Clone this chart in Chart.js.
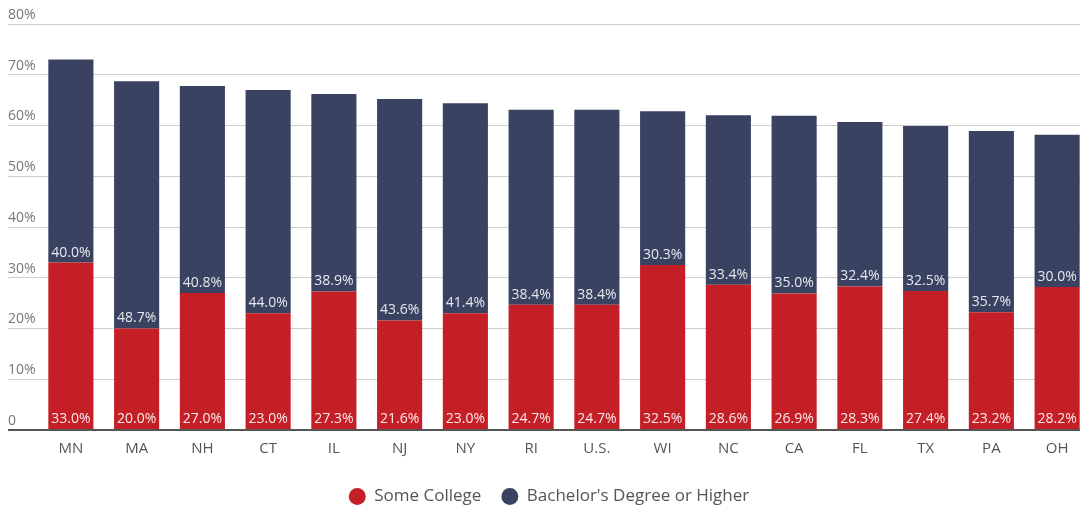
<!DOCTYPE html>
<html>
<head>
<meta charset="utf-8">
<script src="https://cdn.jsdelivr.net/npm/chart.js@4.4.1/dist/chart.umd.min.js"></script>
<style>
  html, body { margin: 0; padding: 0; background: #fff; overflow: hidden; }
  #wrap { width: 1090px; height: 508px; overflow: hidden; }
</style>
</head>
<body>
<div id="wrap"><canvas id="eduChart" width="1090" height="515"></canvas></div>
<script>
// Datos del gráfico
const states = ['MN', 'MA', 'NH', 'CT', 'IL', 'NJ', 'NY', 'RI', 'U.S.', 'WI', 'NC', 'CA', 'FL', 'TX', 'PA', 'OH'];
const someCollege = [33.0, 20.0, 27.0, 23.0, 27.3, 21.6, 23.0, 24.7, 24.7, 32.5, 28.6, 26.9, 28.3, 27.4, 23.2, 28.2];
const bachelors = [40.0, 48.7, 40.8, 44.0, 38.9, 43.6, 41.4, 38.4, 38.4, 30.3, 33.4, 35.0, 32.4, 32.5, 35.7, 30.0];
const yTicks = [0, 10, 20, 30, 40, 50, 60, 70, 80];

Chart.defaults.font.family = "'Open Sans', sans-serif";
Chart.defaults.color = '#666';

// etiquetas dentro de cada segmento, justo encima de su base
const segmentLabels = {
    id: 'segmentLabels',
    afterDatasetsDraw(chart) {
        const ctx = chart.ctx;
        ctx.save();
        ctx.font = "14px 'Open Sans', sans-serif";
        ctx.textAlign = 'center';
        ctx.textBaseline = 'middle';
        chart.data.datasets.forEach((ds, i) => {
            const meta = chart.getDatasetMeta(i);
            ctx.fillStyle = i === 0 ? '#fbe9e9' : '#e6e8ee';
            meta.data.forEach((bar, j) => {
                ctx.fillText(ds.data[j].toFixed(1) + '%', bar.x, bar.base - 10);
            });
        });
        ctx.restore();
    }
};

new Chart(document.getElementById('eduChart').getContext('2d'), {
    type: 'bar',
    data: {
        labels: states,
        datasets: [
            {
                label: 'Some College',
                data: someCollege,
                backgroundColor: '#c41f26',
                barPercentage: 0.686,
                categoryPercentage: 1
            },
            {
                label: "Bachelor's Degree or Higher",
                data: bachelors,
                backgroundColor: '#3a4262',
                barPercentage: 0.686,
                categoryPercentage: 1
            }
        ]
    },
    options: {
        responsive: false,
        animation: false,
        layout: { padding: { left: 8, top: 24, right: 0, bottom: 0 } },
        plugins: {
            legend: {
                position: 'bottom',
                labels: {
                    usePointStyle: true,
                    pointStyle: 'circle',
                    boxHeight: 12,
                    padding: 20,
                    color: '#555',
                    font: { size: 17 }
                }
            },
            tooltip: { enabled: false }
        },
        scales: {
            x: {
                stacked: true,
                grid: { display: false, drawTicks: false },
                border: { display: true, color: '#555', width: 2 },
                ticks: { color: '#555', font: { size: 15 }, padding: 10 }
            },
            y: {
                stacked: true,
                min: 0,
                max: 80,
                afterBuildTicks: (scale) => { scale.ticks = yTicks.map(v => ({ value: v })); },
                afterFit: (scale) => { scale.width = 30; },
                grid: {
                    color: (c) => c.tick && c.tick.value === 0 ? '#555' : '#cfcfcf',
                    lineWidth: (c) => c.tick && c.tick.value === 0 ? 2 : 1,
                    tickLength: 30
                },
                border: { display: false },
                ticks: {
                    crossAlign: 'far',
                    labelOffset: -9,
                    color: '#777',
                    font: { size: 14 },
                    callback: (v) => v === 0 ? '0' : v + '%'
                }
            }
        }
    },
    plugins: [segmentLabels]
});
</script>
</body>
</html>
